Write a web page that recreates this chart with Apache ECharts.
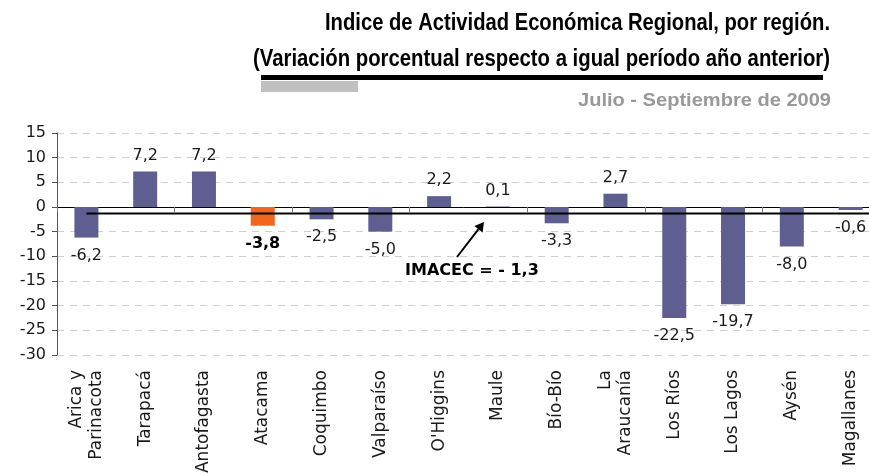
<!DOCTYPE html>
<html>
<head>
<meta charset="utf-8">
<script src="https://cdn.jsdelivr.net/npm/echarts@6/dist/echarts.min.js"></script>
<style>
html,body{margin:0;padding:0;background:#fff;}
#chart{width:869px;height:474px;}
</style>
</head>
<body>
<div id="chart"></div>
<script>
const categories = ['Arica y\nParinacota','Tarapacá','Antofagasta','Atacama','Coquimbo','Valparaíso',"O'Higgins",'Maule','Bío-Bío','La\nAraucanía','Los Ríos','Los Lagos','Aysén','Magallanes'];
const values = [-6.2, 7.2, 7.2, -3.8, -2.5, -5.0, 2.2, 0.1, -3.3, 2.7, -22.5, -19.7, -8.0, -0.6];
const highlighted = ['Atacama'];
const imacec = -1.3;
const yMin = -30, yMax = 15, yStep = 5;

const titleLine1 = 'Indice de Actividad Económica Regional, por región.';
const titleLine2 = '(Variación porcentual respecto a igual período año anterior)';
const subtitle = 'Julio - Septiembre de 2009';
const imacecText = 'IMACEC = - 1,3';

const BAR = '#5f5e90';
const ORANGE = '#f2661f';
const body = '"DejaVu Sans",sans-serif';
const titleFont = 'bold 23px "Liberation Sans",Arial,sans-serif';
const subFont = 'bold 19px "Liberation Sans",Arial,sans-serif';

const fmt = v => v.toFixed(1).replace('.', ',');

const seriesData = values.map((v, i) => {
  const hi = highlighted.indexOf(categories[i]) >= 0;
  return {
    value: v,
    itemStyle: { color: hi ? ORANGE : BAR },
    label: {
      position: v >= 0 ? 'top' : 'bottom',
      distance: v >= 0 ? 8 : 10,
      fontWeight: hi ? 'bold' : 'normal',
      color: hi ? '#000' : '#1a1a1a'
    }
  };
});

// narrow (condensed) heading text: fit Arial-like bold to target width
const ctx = document.createElement('canvas').getContext('2d');
function narrowText(text, font, rightX, cy, targetW, color) {
  ctx.font = font;
  const w = ctx.measureText(text).width;
  const s = targetW / w;
  return { type: 'text', x: rightX, y: cy, scaleX: s, z: 100,
           style: { text: text, font: font, fill: color, textAlign: 'right', textVerticalAlign: 'middle' } };
}

const chart = echarts.init(document.getElementById('chart'), null, { renderer: 'canvas' });
chart.setOption({
  animation: false,
  backgroundColor: '#fff',
  grid: { left: 57, top: 133, width: 823, bottom: 119, containLabel: false, outerBoundsMode: 'none' },
  xAxis: [
    {
      type: 'category', data: categories, position: 'bottom',
      axisLine: { show: false, onZero: false }, axisTick: { show: false },
      axisLabel: { interval: 0, rotate: 90, margin: 15, fontFamily: body, fontSize: 17,
                   lineHeight: 20, color: '#1a1a1a' },
      splitLine: { show: false }
    },
    {
      type: 'category', data: categories, position: 'bottom',
      axisLine: { show: true, onZero: true, lineStyle: { color: '#000', width: 1 } },
      axisTick: { show: true, length: 5, lineStyle: { color: '#777' } },
      axisLabel: { show: false },
      splitLine: { show: false }
    }
  ],
  yAxis: {
    type: 'value', min: yMin, max: yMax, interval: yStep,
    axisLine: { show: true, lineStyle: { color: '#555' } },
    axisTick: { show: true, length: 5, lineStyle: { color: '#555' } },
    axisLabel: { margin: 11, fontFamily: body, fontSize: 16, color: '#1a1a1a' },
    splitLine: { show: true, lineStyle: { color: '#cfcfcf', type: [7, 6] } }
  },
  series: [{
    type: 'bar', xAxisIndex: 0, yAxisIndex: 0,
    data: seriesData, barWidth: 24,
    label: { show: true, fontFamily: body, fontSize: 16,
             formatter: p => fmt(p.value) }
  }]
});

const p0 = chart.convertToPixel({ xAxisIndex: 0, yAxisIndex: 0 }, [0, imacec]);
chart.setOption({
  graphic: [
    narrowText(titleLine1, titleFont, 830, 24, 505, '#000'),
    narrowText(titleLine2, titleFont, 830, 60, 577, '#000'),
    narrowText(subtitle, subFont, 831, 101, 253, '#999'),
    { type: 'rect', shape: { x: 261, y: 75, width: 562, height: 5 }, style: { fill: '#000' }, z: 100 },
    { type: 'rect', shape: { x: 261, y: 81, width: 97, height: 11 }, style: { fill: '#c0c0c0' }, z: 100 },
    { type: 'line', shape: { x1: p0[0], y1: p0[1], x2: 869, y2: p0[1] },
      style: { stroke: '#000', lineWidth: 2 }, z: 100 },
    { type: 'line', shape: { x1: 457, y1: 257, x2: 478.5, y2: 229.1 },
      style: { stroke: '#000', lineWidth: 2 }, z: 100 },
    { type: 'polygon', shape: { points: [[484, 222], [482.6, 232.4], [474.4, 226.0]] },
      style: { fill: '#000' }, z: 100 },
    { type: 'text', x: 405, y: 271, z: 100,
      style: { text: imacecText, font: 'bold 16px "DejaVu Sans",sans-serif', fill: '#000',
               textAlign: 'left', textVerticalAlign: 'middle' } }
  ]
});
</script>
</body>
</html>
